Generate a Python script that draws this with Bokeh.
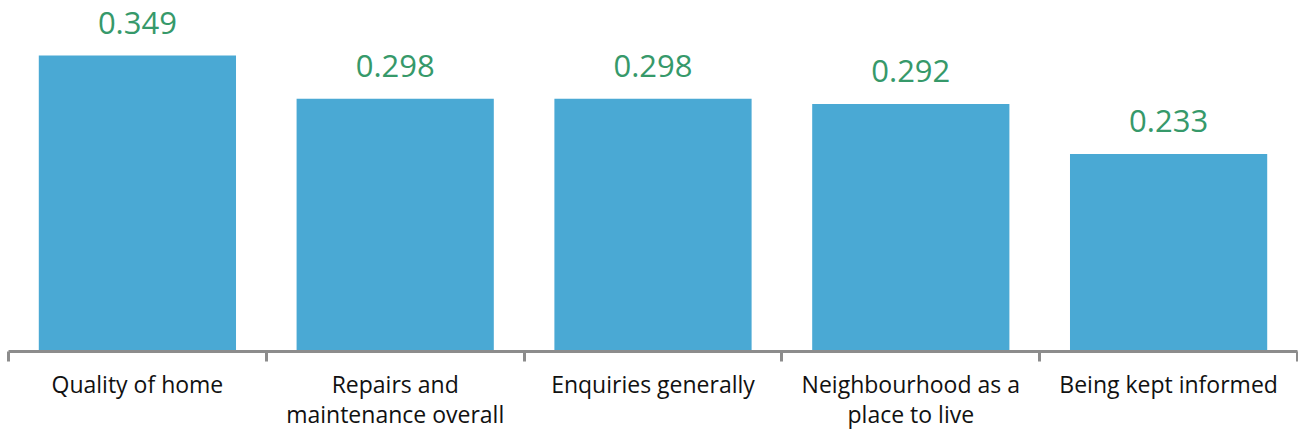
from bokeh.plotting import figure
from bokeh.models import ColumnDataSource, Range1d, LinearAxis, FixedTicker
from bokeh.core.properties import value
from bokeh.embed import file_html
from bokeh.resources import INLINE

categories = ["Quality of home", "Repairs and maintenance overall", "Enquiries generally",
              "Neighbourhood as a place to live", "Being kept informed"]
tick_labels = ["Quality of home", "Repairs and\nmaintenance overall", "Enquiries generally",
               "Neighbourhood as a\nplace to live", "Being kept informed"]
scores = [0.349, 0.298, 0.298, 0.292, 0.233]
score_text = ["0.349", "0.298", "0.298", "0.292", "0.233"]

n = len(categories)
centers = [i + 0.5 for i in range(n)]
src = ColumnDataSource(dict(x=centers, cat=categories, val=scores, txt=score_text))

p = figure(width=1298, height=435, output_backend="svg", toolbar_location=None,
           x_range=Range1d(0, n), y_range=Range1d(0, 0.414),
           x_axis_location=None, y_axis_location=None,
           min_border_left=8, min_border_right=1, min_border_top=0, min_border_bottom=84)
p.outline_line_color = None
p.grid.visible = False
p.background_fill_color = "white"
p.border_fill_color = "white"

p.vbar(x="x", top="val", width=0.765, bottom=0, source=src,
       fill_color="#4AA9D4", line_color=None)
p.text(x="x", y="val", text="txt", source=src, text_align="center",
       text_baseline="alphabetic", y_offset=-33, text_color="#36996A",
       text_font=value("Open Sans"), text_font_size="31px")

ax = LinearAxis(ticker=FixedTicker(ticks=centers, minor_ticks=list(range(n + 1))))
ax.major_label_overrides = {c: tick_labels[i] for i, c in enumerate(centers)}
ax.axis_line_color = "#8C8C8C"
ax.axis_line_width = 3
ax.major_tick_line_color = None
ax.minor_tick_line_color = "#8C8C8C"
ax.minor_tick_line_width = 3
ax.minor_tick_out = 10
ax.minor_tick_in = 0
ax.major_tick_out = 10
ax.major_tick_in = 0
ax.major_label_standoff = 6
ax.major_label_text_font = "Open Sans"
ax.major_label_text_font_size = "23px"
ax.major_label_text_color = "#111111"
ax.major_label_text_line_height = 0.95
p.add_layout(ax, "below")

open("out.html", "w").write(file_html(p, INLINE))
